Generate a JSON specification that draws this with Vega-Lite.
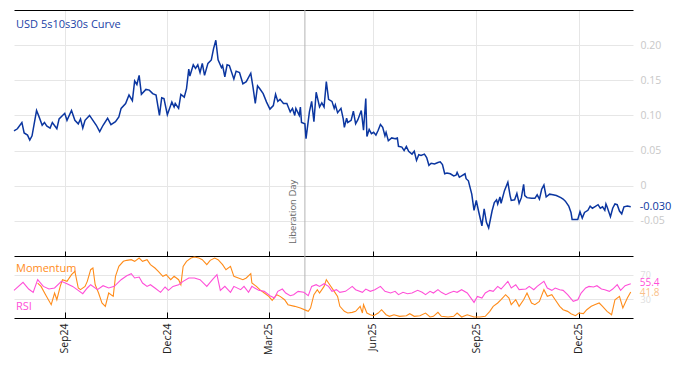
{
  "$schema": "https://vega.github.io/schema/vega-lite/v6.json",
  "padding": {"left": 11, "top": 9, "right": 0, "bottom": 0},
  "autosize": {"type": "pad"},
  "background": "white",
  "bounds": "flush",
  "spacing": 0,
  "config": {
    "font": "Open Sans",
    "view": {"stroke": null},
    "locale": {"number": {"decimal": ".", "thousands": ",", "grouping": [3], "currency": ["$", ""], "minus": "-"}},
    "axis": {"labelFont": "Open Sans", "gridColor": "#e6e6e6", "gridWidth": 1}
  },
  "datasets": {
    "events": [{"date": "2025-04-02", "event": "Liberation Day"}],
    "curve": [
      {"date": "2024-07-18", "value": 0.078}, {"date": "2024-07-21", "value": 0.081}, {"date": "2024-07-25", "value": 0.090}, {"date": "2024-07-27", "value": 0.075},
      {"date": "2024-07-30", "value": 0.072}, {"date": "2024-08-01", "value": 0.065}, {"date": "2024-08-03", "value": 0.071}, {"date": "2024-08-07", "value": 0.107},
      {"date": "2024-08-09", "value": 0.099}, {"date": "2024-08-12", "value": 0.086}, {"date": "2024-08-14", "value": 0.090}, {"date": "2024-08-16", "value": 0.085},
      {"date": "2024-08-19", "value": 0.082}, {"date": "2024-08-21", "value": 0.090}, {"date": "2024-08-25", "value": 0.081}, {"date": "2024-08-27", "value": 0.095},
      {"date": "2024-09-01", "value": 0.103}, {"date": "2024-09-03", "value": 0.093}, {"date": "2024-09-07", "value": 0.107}, {"date": "2024-09-10", "value": 0.093},
      {"date": "2024-09-13", "value": 0.088}, {"date": "2024-09-15", "value": 0.095}, {"date": "2024-09-17", "value": 0.082}, {"date": "2024-09-19", "value": 0.093},
      {"date": "2024-09-23", "value": 0.100}, {"date": "2024-09-26", "value": 0.093}, {"date": "2024-09-29", "value": 0.086}, {"date": "2024-10-02", "value": 0.077},
      {"date": "2024-10-05", "value": 0.086}, {"date": "2024-10-09", "value": 0.096}, {"date": "2024-10-12", "value": 0.087}, {"date": "2024-10-16", "value": 0.091},
      {"date": "2024-10-19", "value": 0.098}, {"date": "2024-10-21", "value": 0.110}, {"date": "2024-10-25", "value": 0.117}, {"date": "2024-10-28", "value": 0.129},
      {"date": "2024-10-31", "value": 0.121}, {"date": "2024-11-02", "value": 0.149}, {"date": "2024-11-04", "value": 0.144}, {"date": "2024-11-06", "value": 0.157},
      {"date": "2024-11-08", "value": 0.130}, {"date": "2024-11-12", "value": 0.137}, {"date": "2024-11-15", "value": 0.136}, {"date": "2024-11-18", "value": 0.131},
      {"date": "2024-11-21", "value": 0.129}, {"date": "2024-11-24", "value": 0.100}, {"date": "2024-11-26", "value": 0.125}, {"date": "2024-11-28", "value": 0.124},
      {"date": "2024-12-01", "value": 0.101}, {"date": "2024-12-05", "value": 0.119}, {"date": "2024-12-07", "value": 0.112}, {"date": "2024-12-08", "value": 0.117},
      {"date": "2024-12-11", "value": 0.110}, {"date": "2024-12-13", "value": 0.130}, {"date": "2024-12-16", "value": 0.126}, {"date": "2024-12-18", "value": 0.138},
      {"date": "2024-12-20", "value": 0.166}, {"date": "2024-12-21", "value": 0.156}, {"date": "2024-12-24", "value": 0.172}, {"date": "2024-12-26", "value": 0.167},
      {"date": "2024-12-28", "value": 0.172}, {"date": "2024-12-30", "value": 0.161}, {"date": "2025-01-01", "value": 0.174}, {"date": "2025-01-03", "value": 0.157},
      {"date": "2025-01-06", "value": 0.174}, {"date": "2025-01-09", "value": 0.179}, {"date": "2025-01-11", "value": 0.195}, {"date": "2025-01-13", "value": 0.207},
      {"date": "2025-01-15", "value": 0.179}, {"date": "2025-01-18", "value": 0.168}, {"date": "2025-01-19", "value": 0.171}, {"date": "2025-01-21", "value": 0.155},
      {"date": "2025-01-23", "value": 0.172}, {"date": "2025-01-25", "value": 0.171}, {"date": "2025-01-29", "value": 0.152}, {"date": "2025-01-31", "value": 0.163},
      {"date": "2025-02-03", "value": 0.161}, {"date": "2025-02-06", "value": 0.145}, {"date": "2025-02-09", "value": 0.148}, {"date": "2025-02-13", "value": 0.160},
      {"date": "2025-02-15", "value": 0.140}, {"date": "2025-02-17", "value": 0.117}, {"date": "2025-02-19", "value": 0.142}, {"date": "2025-02-21", "value": 0.138},
      {"date": "2025-02-24", "value": 0.131}, {"date": "2025-02-27", "value": 0.119}, {"date": "2025-03-02", "value": 0.109}, {"date": "2025-03-05", "value": 0.114},
      {"date": "2025-03-07", "value": 0.130}, {"date": "2025-03-09", "value": 0.120}, {"date": "2025-03-11", "value": 0.123}, {"date": "2025-03-14", "value": 0.117},
      {"date": "2025-03-17", "value": 0.117}, {"date": "2025-03-20", "value": 0.105}, {"date": "2025-03-22", "value": 0.110}, {"date": "2025-03-24", "value": 0.100},
      {"date": "2025-03-25", "value": 0.110}, {"date": "2025-03-28", "value": 0.100}, {"date": "2025-03-29", "value": 0.112}, {"date": "2025-03-30", "value": 0.090},
      {"date": "2025-04-02", "value": 0.088}, {"date": "2025-04-03", "value": 0.067}, {"date": "2025-04-06", "value": 0.105}, {"date": "2025-04-08", "value": 0.120},
      {"date": "2025-04-10", "value": 0.091}, {"date": "2025-04-12", "value": 0.133}, {"date": "2025-04-15", "value": 0.112}, {"date": "2025-04-17", "value": 0.118},
      {"date": "2025-04-19", "value": 0.112}, {"date": "2025-04-21", "value": 0.148}, {"date": "2025-04-23", "value": 0.123}, {"date": "2025-04-26", "value": 0.120},
      {"date": "2025-04-28", "value": 0.110}, {"date": "2025-04-29", "value": 0.115}, {"date": "2025-05-01", "value": 0.104}, {"date": "2025-05-04", "value": 0.110},
      {"date": "2025-05-06", "value": 0.095}, {"date": "2025-05-07", "value": 0.083}, {"date": "2025-05-09", "value": 0.096}, {"date": "2025-05-10", "value": 0.090},
      {"date": "2025-05-13", "value": 0.093}, {"date": "2025-05-15", "value": 0.106}, {"date": "2025-05-17", "value": 0.088}, {"date": "2025-05-19", "value": 0.094},
      {"date": "2025-05-22", "value": 0.107}, {"date": "2025-05-24", "value": 0.079}, {"date": "2025-05-26", "value": 0.124}, {"date": "2025-05-27", "value": 0.070},
      {"date": "2025-05-29", "value": 0.080}, {"date": "2025-05-31", "value": 0.074}, {"date": "2025-06-02", "value": 0.076}, {"date": "2025-06-04", "value": 0.072},
      {"date": "2025-06-06", "value": 0.079}, {"date": "2025-06-08", "value": 0.087}, {"date": "2025-06-10", "value": 0.083}, {"date": "2025-06-12", "value": 0.071},
      {"date": "2025-06-13", "value": 0.076}, {"date": "2025-06-15", "value": 0.064}, {"date": "2025-06-18", "value": 0.068}, {"date": "2025-06-21", "value": 0.067},
      {"date": "2025-06-23", "value": 0.068}, {"date": "2025-06-24", "value": 0.056}, {"date": "2025-06-27", "value": 0.055}, {"date": "2025-06-29", "value": 0.050},
      {"date": "2025-07-01", "value": 0.056}, {"date": "2025-07-03", "value": 0.049}, {"date": "2025-07-06", "value": 0.045}, {"date": "2025-07-08", "value": 0.049},
      {"date": "2025-07-10", "value": 0.036}, {"date": "2025-07-12", "value": 0.044}, {"date": "2025-07-14", "value": 0.043}, {"date": "2025-07-17", "value": 0.045},
      {"date": "2025-07-19", "value": 0.040}, {"date": "2025-07-21", "value": 0.029}, {"date": "2025-07-23", "value": 0.032}, {"date": "2025-07-26", "value": 0.031},
      {"date": "2025-07-29", "value": 0.033}, {"date": "2025-07-31", "value": 0.034}, {"date": "2025-08-02", "value": 0.030}, {"date": "2025-08-04", "value": 0.017},
      {"date": "2025-08-06", "value": 0.018}, {"date": "2025-08-09", "value": 0.017}, {"date": "2025-08-12", "value": 0.014}, {"date": "2025-08-14", "value": 0.015},
      {"date": "2025-08-15", "value": 0.019}, {"date": "2025-08-17", "value": 0.012}, {"date": "2025-08-19", "value": 0.014}, {"date": "2025-08-22", "value": 0.017},
      {"date": "2025-08-23", "value": 0.010}, {"date": "2025-08-25", "value": 0.007}, {"date": "2025-08-28", "value": -0.012}, {"date": "2025-08-30", "value": -0.035},
      {"date": "2025-09-01", "value": -0.021}, {"date": "2025-09-03", "value": -0.036}, {"date": "2025-09-06", "value": -0.057}, {"date": "2025-09-08", "value": -0.033},
      {"date": "2025-09-10", "value": -0.052}, {"date": "2025-09-12", "value": -0.060}, {"date": "2025-09-15", "value": -0.036}, {"date": "2025-09-17", "value": -0.024},
      {"date": "2025-09-19", "value": -0.020}, {"date": "2025-09-20", "value": -0.026}, {"date": "2025-09-22", "value": -0.016}, {"date": "2025-09-23", "value": -0.025},
      {"date": "2025-09-26", "value": -0.007}, {"date": "2025-09-29", "value": 0.005}, {"date": "2025-10-01", "value": -0.014}, {"date": "2025-10-02", "value": -0.021},
      {"date": "2025-10-05", "value": -0.020}, {"date": "2025-10-07", "value": -0.011}, {"date": "2025-10-09", "value": -0.025}, {"date": "2025-10-11", "value": -0.017},
      {"date": "2025-10-13", "value": 0.002}, {"date": "2025-10-14", "value": -0.014}, {"date": "2025-10-16", "value": -0.017}, {"date": "2025-10-20", "value": -0.018},
      {"date": "2025-10-23", "value": -0.018}, {"date": "2025-10-25", "value": -0.013}, {"date": "2025-10-27", "value": -0.019}, {"date": "2025-10-29", "value": -0.005},
      {"date": "2025-10-31", "value": 0.001}, {"date": "2025-11-02", "value": -0.016}, {"date": "2025-11-05", "value": -0.012}, {"date": "2025-11-08", "value": -0.013},
      {"date": "2025-11-11", "value": -0.014}, {"date": "2025-11-15", "value": -0.017}, {"date": "2025-11-17", "value": -0.019}, {"date": "2025-11-19", "value": -0.022},
      {"date": "2025-11-22", "value": -0.029}, {"date": "2025-11-24", "value": -0.038}, {"date": "2025-11-25", "value": -0.048}, {"date": "2025-11-28", "value": -0.048},
      {"date": "2025-11-30", "value": -0.048}, {"date": "2025-12-02", "value": -0.037}, {"date": "2025-12-04", "value": -0.046}, {"date": "2025-12-06", "value": -0.038},
      {"date": "2025-12-09", "value": -0.035}, {"date": "2025-12-11", "value": -0.029}, {"date": "2025-12-13", "value": -0.032}, {"date": "2025-12-15", "value": -0.030},
      {"date": "2025-12-18", "value": -0.027}, {"date": "2025-12-20", "value": -0.032}, {"date": "2025-12-22", "value": -0.030}, {"date": "2025-12-24", "value": -0.035},
      {"date": "2025-12-25", "value": -0.026}, {"date": "2025-12-26", "value": -0.030}, {"date": "2025-12-29", "value": -0.044}, {"date": "2025-12-31", "value": -0.032},
      {"date": "2026-01-02", "value": -0.026}, {"date": "2026-01-04", "value": -0.027}, {"date": "2026-01-06", "value": -0.036}, {"date": "2026-01-08", "value": -0.040},
      {"date": "2026-01-10", "value": -0.030}, {"date": "2026-01-13", "value": -0.029}, {"date": "2026-01-16", "value": -0.030}
    ],
    "osc": [
      {"date": "2024-08-08", "series": "Momentum", "value": 56.4}, {"date": "2024-08-11", "series": "Momentum", "value": 51.0}, {"date": "2024-08-15", "series": "Momentum", "value": 37.6},
      {"date": "2024-08-20", "series": "Momentum", "value": 21.5}, {"date": "2024-08-23", "series": "Momentum", "value": 40.3}, {"date": "2024-08-25", "series": "Momentum", "value": 29.5},
      {"date": "2024-08-28", "series": "Momentum", "value": 51.0}, {"date": "2024-08-30", "series": "Momentum", "value": 61.8}, {"date": "2024-09-03", "series": "Momentum", "value": 59.1},
      {"date": "2024-09-07", "series": "Momentum", "value": 69.9}, {"date": "2024-09-10", "series": "Momentum", "value": 75.2}, {"date": "2024-09-13", "series": "Momentum", "value": 48.4},
      {"date": "2024-09-15", "series": "Momentum", "value": 45.7}, {"date": "2024-09-19", "series": "Momentum", "value": 51.0}, {"date": "2024-09-21", "series": "Momentum", "value": 59.1},
      {"date": "2024-09-24", "series": "Momentum", "value": 77.9}, {"date": "2024-09-26", "series": "Momentum", "value": 80.6}, {"date": "2024-09-28", "series": "Momentum", "value": 53.7},
      {"date": "2024-10-01", "series": "Momentum", "value": 40.3}, {"date": "2024-10-04", "series": "Momentum", "value": 24.2}, {"date": "2024-10-07", "series": "Momentum", "value": 18.8},
      {"date": "2024-10-10", "series": "Momentum", "value": 40.3}, {"date": "2024-10-14", "series": "Momentum", "value": 34.9}, {"date": "2024-10-16", "series": "Momentum", "value": 67.2},
      {"date": "2024-10-19", "series": "Momentum", "value": 83.3}, {"date": "2024-10-23", "series": "Momentum", "value": 91.4}, {"date": "2024-10-26", "series": "Momentum", "value": 93.0},
      {"date": "2024-10-30", "series": "Momentum", "value": 94.1}, {"date": "2024-11-02", "series": "Momentum", "value": 91.4}, {"date": "2024-11-06", "series": "Momentum", "value": 96.7},
      {"date": "2024-11-09", "series": "Momentum", "value": 91.4}, {"date": "2024-11-13", "series": "Momentum", "value": 94.1}, {"date": "2024-11-16", "series": "Momentum", "value": 86.0},
      {"date": "2024-11-20", "series": "Momentum", "value": 80.6}, {"date": "2024-11-23", "series": "Momentum", "value": 75.2}, {"date": "2024-11-27", "series": "Momentum", "value": 67.2},
      {"date": "2024-11-30", "series": "Momentum", "value": 69.9}, {"date": "2024-12-04", "series": "Momentum", "value": 61.8}, {"date": "2024-12-07", "series": "Momentum", "value": 67.2},
      {"date": "2024-12-11", "series": "Momentum", "value": 61.8}, {"date": "2024-12-13", "series": "Momentum", "value": 53.7}, {"date": "2024-12-15", "series": "Momentum", "value": 83.3},
      {"date": "2024-12-18", "series": "Momentum", "value": 91.4}, {"date": "2024-12-22", "series": "Momentum", "value": 96.7}, {"date": "2024-12-25", "series": "Momentum", "value": 98.4},
      {"date": "2024-12-29", "series": "Momentum", "value": 96.7}, {"date": "2025-01-01", "series": "Momentum", "value": 94.1}, {"date": "2025-01-05", "series": "Momentum", "value": 86.0},
      {"date": "2025-01-08", "series": "Momentum", "value": 93.0}, {"date": "2025-01-12", "series": "Momentum", "value": 96.7}, {"date": "2025-01-15", "series": "Momentum", "value": 94.1},
      {"date": "2025-01-19", "series": "Momentum", "value": 86.0}, {"date": "2025-01-22", "series": "Momentum", "value": 77.9}, {"date": "2025-01-26", "series": "Momentum", "value": 83.3},
      {"date": "2025-01-29", "series": "Momentum", "value": 67.2}, {"date": "2025-02-02", "series": "Momentum", "value": 64.5}, {"date": "2025-02-06", "series": "Momentum", "value": 61.8},
      {"date": "2025-02-09", "series": "Momentum", "value": 64.5}, {"date": "2025-02-13", "series": "Momentum", "value": 71.5}, {"date": "2025-02-14", "series": "Momentum", "value": 56.4},
      {"date": "2025-02-18", "series": "Momentum", "value": 51.0}, {"date": "2025-02-21", "series": "Momentum", "value": 45.7}, {"date": "2025-02-25", "series": "Momentum", "value": 40.3},
      {"date": "2025-03-01", "series": "Momentum", "value": 34.9}, {"date": "2025-03-04", "series": "Momentum", "value": 28.5}, {"date": "2025-03-08", "series": "Momentum", "value": 37.6},
      {"date": "2025-03-11", "series": "Momentum", "value": 34.9}, {"date": "2025-03-15", "series": "Momentum", "value": 29.5}, {"date": "2025-03-18", "series": "Momentum", "value": 21.5},
      {"date": "2025-03-24", "series": "Momentum", "value": 18.8}, {"date": "2025-03-29", "series": "Momentum", "value": 16.1}, {"date": "2025-04-03", "series": "Momentum", "value": 12.3},
      {"date": "2025-04-05", "series": "Momentum", "value": 10.7}, {"date": "2025-04-07", "series": "Momentum", "value": 16.1}, {"date": "2025-04-10", "series": "Momentum", "value": 37.6},
      {"date": "2025-04-13", "series": "Momentum", "value": 45.7}, {"date": "2025-04-15", "series": "Momentum", "value": 40.3}, {"date": "2025-04-19", "series": "Momentum", "value": 51.0},
      {"date": "2025-04-21", "series": "Momentum", "value": 61.8}, {"date": "2025-04-24", "series": "Momentum", "value": 53.7}, {"date": "2025-04-28", "series": "Momentum", "value": 43.0},
      {"date": "2025-05-01", "series": "Momentum", "value": 34.9}, {"date": "2025-05-03", "series": "Momentum", "value": 18.8}, {"date": "2025-05-07", "series": "Momentum", "value": 10.7},
      {"date": "2025-05-10", "series": "Momentum", "value": 8.0}, {"date": "2025-05-14", "series": "Momentum", "value": 9.1}, {"date": "2025-05-17", "series": "Momentum", "value": 10.7},
      {"date": "2025-05-21", "series": "Momentum", "value": 18.8}, {"date": "2025-05-23", "series": "Momentum", "value": 8.0}, {"date": "2025-05-24", "series": "Momentum", "value": 21.5},
      {"date": "2025-05-27", "series": "Momentum", "value": 8.0}, {"date": "2025-05-30", "series": "Momentum", "value": 5.3}, {"date": "2025-06-02", "series": "Momentum", "value": 3.7},
      {"date": "2025-06-06", "series": "Momentum", "value": 8.0}, {"date": "2025-06-09", "series": "Momentum", "value": 13.4}, {"date": "2025-06-13", "series": "Momentum", "value": 5.3},
      {"date": "2025-06-16", "series": "Momentum", "value": 2.7}, {"date": "2025-06-20", "series": "Momentum", "value": 5.3}, {"date": "2025-06-25", "series": "Momentum", "value": 2.7},
      {"date": "2025-07-01", "series": "Momentum", "value": 3.7}, {"date": "2025-07-04", "series": "Momentum", "value": 7.0}, {"date": "2025-07-08", "series": "Momentum", "value": 2.7},
      {"date": "2025-07-13", "series": "Momentum", "value": 3.7}, {"date": "2025-07-18", "series": "Momentum", "value": 8.0}, {"date": "2025-07-22", "series": "Momentum", "value": 1.6},
      {"date": "2025-07-25", "series": "Momentum", "value": 2.7}, {"date": "2025-07-29", "series": "Momentum", "value": 9.1}, {"date": "2025-08-01", "series": "Momentum", "value": 2.7},
      {"date": "2025-08-07", "series": "Momentum", "value": 1.6}, {"date": "2025-08-12", "series": "Momentum", "value": 2.7}, {"date": "2025-08-15", "series": "Momentum", "value": 8.0},
      {"date": "2025-08-19", "series": "Momentum", "value": 1.6}, {"date": "2025-08-24", "series": "Momentum", "value": 5.3}, {"date": "2025-08-30", "series": "Momentum", "value": 1.6},
      {"date": "2025-09-04", "series": "Momentum", "value": 1.6}, {"date": "2025-09-09", "series": "Momentum", "value": 2.7}, {"date": "2025-09-13", "series": "Momentum", "value": 10.7},
      {"date": "2025-09-16", "series": "Momentum", "value": 18.8}, {"date": "2025-09-20", "series": "Momentum", "value": 24.2}, {"date": "2025-09-23", "series": "Momentum", "value": 29.5},
      {"date": "2025-09-27", "series": "Momentum", "value": 37.6}, {"date": "2025-09-30", "series": "Momentum", "value": 32.2}, {"date": "2025-10-02", "series": "Momentum", "value": 21.5},
      {"date": "2025-10-06", "series": "Momentum", "value": 29.5}, {"date": "2025-10-09", "series": "Momentum", "value": 18.8}, {"date": "2025-10-13", "series": "Momentum", "value": 29.5},
      {"date": "2025-10-16", "series": "Momentum", "value": 40.3}, {"date": "2025-10-20", "series": "Momentum", "value": 24.2}, {"date": "2025-10-23", "series": "Momentum", "value": 21.5},
      {"date": "2025-10-27", "series": "Momentum", "value": 26.8}, {"date": "2025-10-31", "series": "Momentum", "value": 45.7}, {"date": "2025-11-03", "series": "Momentum", "value": 34.9},
      {"date": "2025-11-07", "series": "Momentum", "value": 37.6}, {"date": "2025-11-10", "series": "Momentum", "value": 29.5}, {"date": "2025-11-14", "series": "Momentum", "value": 18.8},
      {"date": "2025-11-17", "series": "Momentum", "value": 13.4}, {"date": "2025-11-21", "series": "Momentum", "value": 10.7}, {"date": "2025-11-24", "series": "Momentum", "value": 7.0},
      {"date": "2025-11-28", "series": "Momentum", "value": 3.7}, {"date": "2025-12-01", "series": "Momentum", "value": 8.0}, {"date": "2025-12-05", "series": "Momentum", "value": 7.0},
      {"date": "2025-12-08", "series": "Momentum", "value": 13.4}, {"date": "2025-12-12", "series": "Momentum", "value": 18.8}, {"date": "2025-12-15", "series": "Momentum", "value": 21.5},
      {"date": "2025-12-19", "series": "Momentum", "value": 24.2}, {"date": "2025-12-22", "series": "Momentum", "value": 18.8}, {"date": "2025-12-26", "series": "Momentum", "value": 10.7},
      {"date": "2025-12-30", "series": "Momentum", "value": 5.3}, {"date": "2026-01-02", "series": "Momentum", "value": 29.5}, {"date": "2026-01-06", "series": "Momentum", "value": 34.9},
      {"date": "2026-01-09", "series": "Momentum", "value": 16.1}, {"date": "2026-01-13", "series": "Momentum", "value": 32.2}, {"date": "2026-01-16", "series": "Momentum", "value": 41.8},
      {"date": "2024-07-18", "series": "RSI", "value": 44.6}, {"date": "2024-07-26", "series": "RSI", "value": 57.5}, {"date": "2024-07-31", "series": "RSI", "value": 46.7},
      {"date": "2024-08-04", "series": "RSI", "value": 41.4}, {"date": "2024-08-08", "series": "RSI", "value": 61.8}, {"date": "2024-08-13", "series": "RSI", "value": 51.0},
      {"date": "2024-08-18", "series": "RSI", "value": 46.7}, {"date": "2024-08-23", "series": "RSI", "value": 48.4}, {"date": "2024-08-29", "series": "RSI", "value": 59.1},
      {"date": "2024-09-03", "series": "RSI", "value": 55.3}, {"date": "2024-09-08", "series": "RSI", "value": 51.0}, {"date": "2024-09-12", "series": "RSI", "value": 45.7},
      {"date": "2024-09-17", "series": "RSI", "value": 39.2}, {"date": "2024-09-21", "series": "RSI", "value": 48.4}, {"date": "2024-09-24", "series": "RSI", "value": 53.7},
      {"date": "2024-09-30", "series": "RSI", "value": 45.7}, {"date": "2024-10-05", "series": "RSI", "value": 52.1}, {"date": "2024-10-10", "series": "RSI", "value": 48.4},
      {"date": "2024-10-15", "series": "RSI", "value": 51.0}, {"date": "2024-10-21", "series": "RSI", "value": 61.8}, {"date": "2024-10-26", "series": "RSI", "value": 68.2},
      {"date": "2024-10-30", "series": "RSI", "value": 71.5}, {"date": "2024-11-02", "series": "RSI", "value": 64.5}, {"date": "2024-11-06", "series": "RSI", "value": 66.1},
      {"date": "2024-11-09", "series": "RSI", "value": 56.4}, {"date": "2024-11-13", "series": "RSI", "value": 51.0}, {"date": "2024-11-16", "series": "RSI", "value": 53.7},
      {"date": "2024-11-20", "series": "RSI", "value": 48.4}, {"date": "2024-11-25", "series": "RSI", "value": 41.4}, {"date": "2024-11-29", "series": "RSI", "value": 50.0},
      {"date": "2024-12-02", "series": "RSI", "value": 44.6}, {"date": "2024-12-06", "series": "RSI", "value": 51.0}, {"date": "2024-12-11", "series": "RSI", "value": 53.7},
      {"date": "2024-12-15", "series": "RSI", "value": 59.1}, {"date": "2024-12-20", "series": "RSI", "value": 64.5}, {"date": "2024-12-25", "series": "RSI", "value": 64.5},
      {"date": "2024-12-30", "series": "RSI", "value": 61.8}, {"date": "2025-01-05", "series": "RSI", "value": 51.0}, {"date": "2025-01-10", "series": "RSI", "value": 61.8},
      {"date": "2025-01-14", "series": "RSI", "value": 69.9}, {"date": "2025-01-17", "series": "RSI", "value": 44.6}, {"date": "2025-01-21", "series": "RSI", "value": 51.0},
      {"date": "2025-01-26", "series": "RSI", "value": 41.4}, {"date": "2025-01-29", "series": "RSI", "value": 51.0}, {"date": "2025-02-04", "series": "RSI", "value": 45.7},
      {"date": "2025-02-07", "series": "RSI", "value": 51.0}, {"date": "2025-02-11", "series": "RSI", "value": 41.4}, {"date": "2025-02-14", "series": "RSI", "value": 51.0},
      {"date": "2025-02-20", "series": "RSI", "value": 44.6}, {"date": "2025-02-25", "series": "RSI", "value": 43.0}, {"date": "2025-03-02", "series": "RSI", "value": 36.0},
      {"date": "2025-03-06", "series": "RSI", "value": 32.2}, {"date": "2025-03-09", "series": "RSI", "value": 43.0}, {"date": "2025-03-13", "series": "RSI", "value": 46.7},
      {"date": "2025-03-16", "series": "RSI", "value": 40.3}, {"date": "2025-03-20", "series": "RSI", "value": 36.0}, {"date": "2025-03-23", "series": "RSI", "value": 37.6},
      {"date": "2025-03-27", "series": "RSI", "value": 43.0}, {"date": "2025-04-01", "series": "RSI", "value": 41.4}, {"date": "2025-04-05", "series": "RSI", "value": 36.0},
      {"date": "2025-04-08", "series": "RSI", "value": 51.0}, {"date": "2025-04-12", "series": "RSI", "value": 53.7}, {"date": "2025-04-15", "series": "RSI", "value": 51.0},
      {"date": "2025-04-19", "series": "RSI", "value": 55.3}, {"date": "2025-04-23", "series": "RSI", "value": 51.0}, {"date": "2025-04-26", "series": "RSI", "value": 43.0},
      {"date": "2025-04-30", "series": "RSI", "value": 45.7}, {"date": "2025-05-03", "series": "RSI", "value": 41.4}, {"date": "2025-05-08", "series": "RSI", "value": 43.0},
      {"date": "2025-05-14", "series": "RSI", "value": 51.0}, {"date": "2025-05-17", "series": "RSI", "value": 45.7}, {"date": "2025-05-23", "series": "RSI", "value": 41.4},
      {"date": "2025-05-26", "series": "RSI", "value": 46.7}, {"date": "2025-05-30", "series": "RSI", "value": 43.0}, {"date": "2025-06-03", "series": "RSI", "value": 45.7},
      {"date": "2025-06-08", "series": "RSI", "value": 51.0}, {"date": "2025-06-12", "series": "RSI", "value": 43.0}, {"date": "2025-06-17", "series": "RSI", "value": 40.3},
      {"date": "2025-06-21", "series": "RSI", "value": 43.0}, {"date": "2025-06-24", "series": "RSI", "value": 37.6}, {"date": "2025-06-28", "series": "RSI", "value": 41.4},
      {"date": "2025-07-02", "series": "RSI", "value": 39.2}, {"date": "2025-07-06", "series": "RSI", "value": 40.3}, {"date": "2025-07-11", "series": "RSI", "value": 44.6},
      {"date": "2025-07-15", "series": "RSI", "value": 41.4}, {"date": "2025-07-18", "series": "RSI", "value": 37.6}, {"date": "2025-07-22", "series": "RSI", "value": 43.0},
      {"date": "2025-07-25", "series": "RSI", "value": 40.3}, {"date": "2025-07-29", "series": "RSI", "value": 45.7}, {"date": "2025-08-01", "series": "RSI", "value": 41.4},
      {"date": "2025-08-05", "series": "RSI", "value": 37.6}, {"date": "2025-08-08", "series": "RSI", "value": 40.3}, {"date": "2025-08-12", "series": "RSI", "value": 43.0},
      {"date": "2025-08-15", "series": "RSI", "value": 41.4}, {"date": "2025-08-19", "series": "RSI", "value": 45.7}, {"date": "2025-08-24", "series": "RSI", "value": 40.3},
      {"date": "2025-08-30", "series": "RSI", "value": 25.2}, {"date": "2025-09-02", "series": "RSI", "value": 34.9}, {"date": "2025-09-06", "series": "RSI", "value": 32.2},
      {"date": "2025-09-09", "series": "RSI", "value": 40.3}, {"date": "2025-09-13", "series": "RSI", "value": 44.6}, {"date": "2025-09-16", "series": "RSI", "value": 43.0},
      {"date": "2025-09-20", "series": "RSI", "value": 51.0}, {"date": "2025-09-23", "series": "RSI", "value": 46.7}, {"date": "2025-09-29", "series": "RSI", "value": 59.1},
      {"date": "2025-10-02", "series": "RSI", "value": 48.4}, {"date": "2025-10-06", "series": "RSI", "value": 53.7}, {"date": "2025-10-09", "series": "RSI", "value": 45.7},
      {"date": "2025-10-15", "series": "RSI", "value": 46.7}, {"date": "2025-10-18", "series": "RSI", "value": 51.0}, {"date": "2025-10-22", "series": "RSI", "value": 45.7},
      {"date": "2025-10-25", "series": "RSI", "value": 51.0}, {"date": "2025-10-31", "series": "RSI", "value": 59.1}, {"date": "2025-11-03", "series": "RSI", "value": 48.4},
      {"date": "2025-11-07", "series": "RSI", "value": 44.6}, {"date": "2025-11-10", "series": "RSI", "value": 48.4}, {"date": "2025-11-14", "series": "RSI", "value": 45.7},
      {"date": "2025-11-17", "series": "RSI", "value": 44.6}, {"date": "2025-11-21", "series": "RSI", "value": 37.6}, {"date": "2025-11-26", "series": "RSI", "value": 26.8},
      {"date": "2025-11-30", "series": "RSI", "value": 29.5}, {"date": "2025-12-03", "series": "RSI", "value": 40.3}, {"date": "2025-12-07", "series": "RSI", "value": 48.4},
      {"date": "2025-12-10", "series": "RSI", "value": 51.0}, {"date": "2025-12-14", "series": "RSI", "value": 50.0}, {"date": "2025-12-17", "series": "RSI", "value": 52.1},
      {"date": "2025-12-21", "series": "RSI", "value": 46.7}, {"date": "2025-12-24", "series": "RSI", "value": 45.7}, {"date": "2025-12-28", "series": "RSI", "value": 43.0},
      {"date": "2025-12-31", "series": "RSI", "value": 46.7}, {"date": "2026-01-04", "series": "RSI", "value": 53.7}, {"date": "2026-01-07", "series": "RSI", "value": 44.6},
      {"date": "2026-01-11", "series": "RSI", "value": 52.1}, {"date": "2026-01-16", "series": "RSI", "value": 55.4}
    ]
  },
  "vconcat": [
    {
      "width": 619,
      "height": 246,
      "layer": [
        {
          "data": {"name": "events"},
          "mark": {"type": "rule", "color": "#b3b3b3", "strokeWidth": 1},
          "encoding": {
            "x": {"field": "date", "type": "temporal", "axis": null, "scale": {"type": "utc", "nice": false, "domain": [{"year": 2024, "month": 7, "date": 18, "utc": true}, {"year": 2026, "month": 1, "date": 18, "utc": true}]}}
          }
        },
        {
          "data": {"name": "events"},
          "mark": {"type": "text", "angle": 270, "align": "left", "baseline": "bottom", "dy": -7, "fontSize": 9.5, "color": "#666666"},
          "encoding": {
            "x": {"field": "date", "type": "temporal", "axis": null},
            "y": {"datum": -0.083, "type": "quantitative", "axis": null},
            "text": {"field": "event"}
          }
        },
        {
          "data": {"name": "curve"},
          "mark": {"type": "line", "color": "#0b36a0", "strokeWidth": 1.5},
          "encoding": {
            "x": {
              "field": "date", "type": "temporal",
              "scale": {"type": "utc", "nice": false, "domain": [{"year": 2024, "month": 7, "date": 18, "utc": true}, {"year": 2026, "month": 1, "date": 18, "utc": true}]},
              "axis": {
                "orient": "top", "title": null, "labels": false, "ticks": false, "domain": true, "domainColor": "#000000", "domainWidth": 1, "grid": true,
                "values": [{"year": 2024, "month": 9, "date": 1, "utc": true}, {"year": 2024, "month": 12, "date": 1, "utc": true}, {"year": 2025, "month": 3, "date": 1, "utc": true}, {"year": 2025, "month": 6, "date": 1, "utc": true}, {"year": 2025, "month": 9, "date": 1, "utc": true}, {"year": 2025, "month": 12, "date": 1, "utc": true}]
              }
            },
            "y": {
              "field": "value", "type": "quantitative",
              "scale": {"domain": [-0.1, 0.25], "nice": false, "zero": false},
              "axis": {"orient": "right", "title": null, "values": [-0.05, 0, 0.05, 0.1, 0.15, 0.2], "labelExpr": "datum.value == 0 ? '0' : format(datum.value, '.2f')", "labelColor": "#c8c8c8", "labelFontSize": 10.5, "labelPadding": 7, "ticks": false, "domain": false, "grid": true}
            }
          }
        },
        {
          "data": {"name": "curve"},
          "mark": {"type": "text", "align": "left", "baseline": "middle", "dx": 9, "fontSize": 11, "color": "#0b36a0"},
          "encoding": {
            "x": {"aggregate": "max", "field": "date", "type": "temporal", "axis": null},
            "y": {"aggregate": {"argmax": "date"}, "field": "value", "type": "quantitative", "axis": null},
            "text": {"aggregate": {"argmax": "date"}, "field": "value", "type": "quantitative", "format": ".3f"}
          }
        },
        {
          "data": {"name": "curve"},
          "mark": {"type": "text", "align": "left", "baseline": "middle", "dx": 2, "fontSize": 11, "color": "#1a3fa6", "text": "USD 5s10s30s Curve"},
          "encoding": {
            "x": {"aggregate": "min", "field": "date", "type": "temporal", "axis": null},
            "y": {"datum": 0.229, "type": "quantitative", "axis": null}
          }
        }
      ],
      "resolve": {"axis": {"x": "independent", "y": "independent"}}
    },
    {
      "width": 619,
      "height": 62,
      "layer": [
        {
          "data": {"name": "events"},
          "mark": {"type": "rule", "color": "#b3b3b3", "strokeWidth": 1},
          "encoding": {
            "x": {
              "field": "date", "type": "temporal",
              "scale": {"type": "utc", "nice": false, "domain": [{"year": 2024, "month": 7, "date": 18, "utc": true}, {"year": 2026, "month": 1, "date": 18, "utc": true}]},
              "axis": {
                "orient": "top", "title": null, "labels": false, "ticks": true, "tickSize": 5, "tickColor": "#000000", "domain": true, "domainColor": "#000000", "grid": false,
                "values": [{"year": 2024, "month": 9, "date": 1, "utc": true}, {"year": 2024, "month": 12, "date": 1, "utc": true}, {"year": 2025, "month": 3, "date": 1, "utc": true}, {"year": 2025, "month": 6, "date": 1, "utc": true}, {"year": 2025, "month": 9, "date": 1, "utc": true}, {"year": 2025, "month": 12, "date": 1, "utc": true}]
              }
            }
          }
        },
        {
          "data": {"name": "osc"},
          "mark": {"type": "line", "strokeWidth": 1.1},
          "encoding": {
            "x": {
              "field": "date", "type": "temporal",
              "scale": {"type": "utc", "nice": false, "domain": [{"year": 2024, "month": 7, "date": 18, "utc": true}, {"year": 2026, "month": 1, "date": 18, "utc": true}]},
              "axis": {
                "orient": "bottom", "title": null, "labelExpr": "utcFormat(datum.value, '%b%y')", "labelAngle": -90, "labelFontSize": 10.5, "labelColor": "#222222",
                "tickSize": -6, "labelPadding": 11, "tickColor": "#000000", "domain": true, "domainColor": "#000000", "grid": true,
                "values": [{"year": 2024, "month": 9, "date": 1, "utc": true}, {"year": 2024, "month": 12, "date": 1, "utc": true}, {"year": 2025, "month": 3, "date": 1, "utc": true}, {"year": 2025, "month": 6, "date": 1, "utc": true}, {"year": 2025, "month": 9, "date": 1, "utc": true}, {"year": 2025, "month": 12, "date": 1, "utc": true}]
              }
            },
            "y": {
              "field": "value", "type": "quantitative",
              "scale": {"domain": [0, 100], "nice": false, "zero": false},
              "axis": {"orient": "right", "title": null, "values": [30, 70], "labelColor": "#dddddd", "labelFontSize": 9, "labelPadding": 7, "ticks": false, "domain": false, "grid": true}
            },
            "color": {"field": "series", "type": "nominal", "scale": {"domain": ["Momentum", "RSI"], "range": ["#ff8c1a", "#ff4fd8"]}, "legend": null}
          }
        },
        {
          "data": {"name": "osc"},
          "transform": [{"filter": "datum.series == 'RSI'"}],
          "mark": {"type": "text", "align": "left", "baseline": "middle", "dx": 9, "dy": -1, "fontSize": 10, "color": "#ff4fd8"},
          "encoding": {
            "x": {"aggregate": "max", "field": "date", "type": "temporal", "axis": null},
            "y": {"aggregate": {"argmax": "date"}, "field": "value", "type": "quantitative", "axis": null},
            "text": {"aggregate": {"argmax": "date"}, "field": "value", "type": "quantitative", "format": ".1f"}
          }
        },
        {
          "data": {"name": "osc"},
          "transform": [{"filter": "datum.series == 'Momentum'"}],
          "mark": {"type": "text", "align": "left", "baseline": "middle", "dx": 9, "dy": 1, "fontSize": 10, "color": "#f9bf8a"},
          "encoding": {
            "x": {"aggregate": "max", "field": "date", "type": "temporal", "axis": null},
            "y": {"aggregate": {"argmax": "date"}, "field": "value", "type": "quantitative", "axis": null},
            "text": {"aggregate": {"argmax": "date"}, "field": "value", "type": "quantitative", "format": ".1f"}
          }
        },
        {
          "data": {"name": "curve"},
          "mark": {"type": "text", "align": "left", "baseline": "middle", "dx": 2, "fontSize": 11, "color": "#ff8c1a", "text": "Momentum"},
          "encoding": {
            "x": {"aggregate": "min", "field": "date", "type": "temporal", "axis": null},
            "y": {"datum": 79, "type": "quantitative", "axis": null}
          }
        },
        {
          "data": {"name": "curve"},
          "mark": {"type": "text", "align": "left", "baseline": "middle", "dx": 2, "fontSize": 11, "color": "#ff4fd8", "text": "RSI"},
          "encoding": {
            "x": {"aggregate": "min", "field": "date", "type": "temporal", "axis": null},
            "y": {"datum": 18, "type": "quantitative", "axis": null}
          }
        }
      ],
      "resolve": {"axis": {"x": "independent", "y": "independent"}}
    }
  ]
}
